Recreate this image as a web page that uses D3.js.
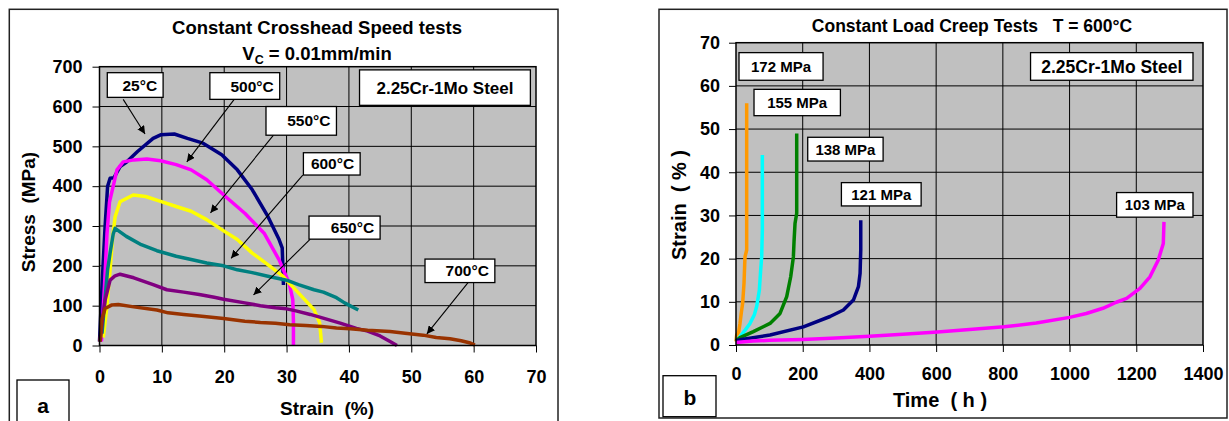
<!DOCTYPE html>
<html>
<head>
<meta charset="utf-8">
<script src="https://cdn.jsdelivr.net/npm/d3@7"></script>
<style>
  html, body { margin: 0; padding: 0; background: #fff; }
  svg { display: block; font-family: "Liberation Sans", Arial, sans-serif; }
  .tick text { font-weight: bold; font-size: 18px; fill: #000; }
  .tick line { stroke: #000; stroke-width: 1; }
</style>
</head>
<body>
<svg id="chart" width="1229" height="421"></svg>
<script>
// ---------- Panel (a): constant crosshead speed tensile curves ----------
const strainTicks = [0, 10, 20, 30, 40, 50, 60, 70];
const stressTicks = [0, 100, 200, 300, 400, 500, 600, 700];

// [strain %, stress MPa]
const t25 = [[0.0,10],[0.2,80],[0.5,180],[0.9,300],[1.3,400],[1.7,420],[2.3,421],[3.3,449],[4.3,460],[6.1,487],[8.6,520],[9.8,529],[12,531],[14.1,520],[16.6,508],[19.6,479],[22.1,441],[24.5,391],[27,324],[28.8,266],[29.3,245],[29.4,200],[29.5,152]];
const t500 = [[0.3,10],[0.8,150],[1.2,280],[1.6,360],[2.2,400],[2.8,441],[3.8,461],[5.5,466],[7.6,468],[9.8,464],[12.3,454],[14.7,441],[17.2,416],[20.2,374],[23.3,332],[26.4,282],[28.8,215],[30.4,157],[31,115],[31.1,60],[31.1,0]];
const t550 = [[0.6,20],[1.2,100],[1.7,190],[2.1,270],[2.5,323],[3.3,361],[5.4,378],[7.4,374],[9.8,362],[12.3,349],[14.7,337],[17.2,316],[19.6,291],[22.1,266],[24.5,232],[27,203],[29.4,174],[31.9,132],[34.4,90],[35.3,57],[35.6,7]];
const t600 = [[0.4,30],[0.9,120],[1.3,190],[1.7,232],[2.2,280],[2.5,294],[4.3,274],[6.7,253],[9.2,238],[12.3,224],[14.7,216],[17.2,207],[19.9,200],[22.1,190],[24.5,183],[27,174],[30,164],[31.9,153],[34.4,140],[35.9,134],[38,120],[39.3,107],[41.5,89]];
const t650 = [[0.1,10],[0.5,70],[0.9,114],[1.7,164],[2.5,175],[3.3,179],[5.5,170],[8.6,153],[10.8,140],[13.5,134],[16,128],[18.4,121],[19.9,116],[23.3,107],[25.8,100],[28.2,95],[30,92],[31.5,87],[33.8,78],[36,68],[38.6,56],[41.2,43],[43,36],[45,24],[46.6,10],[47.7,0]];
const t700 = [[0.1,10],[0.35,64],[0.9,93],[2,102],[3,103],[5.5,97],[9.2,89],[11,82],[13.5,78],[16,74],[19.9,68],[23.3,61],[25.8,58],[28.2,56],[30.5,52],[33.1,50],[35.6,48],[38,44],[40.2,42],[43,38],[46.6,35],[49,31],[51.9,26],[54,20],[56.2,17],[58,12],[59.3,7],[60.2,1]];

const tensileSeries = [
  { name: "25°C",  color: "#000080", values: t25 },
  { name: "500°C", color: "#FF00FF", values: t500 },
  { name: "550°C", color: "#FFFF00", values: t550 },
  { name: "600°C", color: "#008080", values: t600 },
  { name: "650°C", color: "#800080", values: t650 },
  { name: "700°C", color: "#993300", values: t700 }
];

// Callouts: box [x0, x1, y0, y1] in data units, arrow [from, to]
const tensileCallouts = [
  { text: "25°C",  box: [1.25, 10.2, 685, 623], arrow: [[3.8, 618], [7.3, 531]] },
  { text: "500°C", box: [17.7, 28.9, 685, 618], arrow: [[21.6, 618], [14.0, 461]] },
  { text: "550°C", box: [26.7, 38.0, 600, 528], arrow: [[27.9, 528], [17.8, 333]] },
  { text: "600°C", box: [32.7, 41.8, 484, 428], arrow: [[32.6, 428], [21.1, 219]] },
  { text: "650°C", box: [33.6, 45.0, 325, 267], arrow: [[33.8, 267], [24.7, 127]] },
  { text: "700°C", box: [52.2, 63.4, 217, 158], arrow: [[59.1, 158], [52.5, 29]] }
];

// ---------- Panel (b): constant load creep curves at 600°C ----------
const timeTicks = [0, 200, 400, 600, 800, 1000, 1200, 1400];
const creepStrainTicks = [0, 10, 20, 30, 40, 50, 60, 70];

// [time h, strain %]
const c172 = [[0,0.8],[2,2.3],[8,3.0],[12,5.0],[16,7.5],[20,9.7],[24,14.3],[26,18.5],[27,20.4],[32,22],[32,30],[32,56]];
const c155 = [[0,1.0],[12,1.9],[28,3.5],[42,5.0],[55,7.0],[62,8.9],[70,12.7],[74,17.4],[77,20.4],[79,26.6],[79,44]];
const c138 = [[0,1.0],[12,1.7],[52,3.1],[102,5.0],[132,7.3],[152,11.2],[164,15.8],[172,20.4],[174,24],[177,28.2],[182,30.5],[182,49]];
const c121 = [[0,1.0],[12,1.2],[102,2.3],[202,4.2],[282,6.6],[322,8.1],[352,10.4],[367,13.5],[372,16.6],[374,22],[374,28.9]];
const c103 = [[0,0.6],[50,0.9],[100,1.1],[200,1.3],[300,1.6],[400,2.0],[500,2.5],[604,3.0],[700,3.6],[804,4.2],[900,5.1],[1000,6.4],[1050,7.3],[1100,8.5],[1140,9.9],[1171,10.8],[1211,13.1],[1241,15.8],[1266,19.7],[1281,23.5],[1283,28.5]];

const creepSeries = [
  { name: "172 MPa", color: "#FF9900", values: c172 },
  { name: "155 MPa", color: "#00FFFF", values: c155 },
  { name: "138 MPa", color: "#008000", values: c138 },
  { name: "121 MPa", color: "#000080", values: c121 },
  { name: "103 MPa", color: "#FF00FF", values: c103 }
];

const creepCallouts = [
  { text: "172 MPa", box: [9, 261, 67.7, 61.3] },
  { text: "155 MPa", box: [54, 313, 59.2, 53.1] },
  { text: "138 MPa", box: [215, 441, 48.1, 42.6] },
  { text: "121 MPa", box: [316, 555, 37.6, 32.2] },
  { text: "103 MPa", box: [1141, 1370, 35.3, 29.6] }
];

const svg = d3.select("#chart");

const defs = svg.append("defs");
defs.append("marker")
  .attr("id", "arrowhead")
  .attr("viewBox", "0 0 10 10")
  .attr("refX", 10).attr("refY", 5)
  .attr("markerWidth", 8).attr("markerHeight", 8)
  .attr("markerUnits", "userSpaceOnUse")
  .attr("orient", "auto")
  .append("path").attr("d", "M0,0 L10,5 L0,10 Z").attr("fill", "#000");

function drawPanel(cfg) {
  const g = svg.append("g");
  const { x, y } = cfg;
  const [x0, x1] = x.range();
  const [yb, yt] = y.range();

  // panel frame
  g.append("rect")
    .attr("x", cfg.frame[0]).attr("y", cfg.frame[1])
    .attr("width", cfg.frame[2]).attr("height", cfg.frame[3])
    .attr("fill", "#fff").attr("stroke", "#222").attr("stroke-width", 1.5);

  // plot background
  g.append("rect")
    .attr("x", x0).attr("y", yt).attr("width", x1 - x0).attr("height", yb - yt)
    .attr("fill", "#C0C0C0");

  // grid
  g.append("g").selectAll("line").data(cfg.xTicks.slice(1, -1)).join("line")
    .attr("x1", d => x(d)).attr("x2", d => x(d)).attr("y1", yt).attr("y2", yb)
    .attr("stroke", "#000").attr("stroke-width", 1);
  g.append("g").selectAll("line").data(cfg.yTicks.slice(1, -1)).join("line")
    .attr("x1", x0).attr("x2", x1).attr("y1", d => y(d)).attr("y2", d => y(d))
    .attr("stroke", "#000").attr("stroke-width", 1);

  // axes
  const ax = g.append("g").attr("transform", `translate(0,${yb})`)
    .call(d3.axisBottom(x).tickValues(cfg.xTicks).tickSize(7).tickPadding(cfg.xPad).tickFormat(d3.format("d")));
  const ay = g.append("g").attr("transform", `translate(${x0},0)`)
    .call(d3.axisLeft(y).tickValues(cfg.yTicks).tickSize(7).tickPadding(cfg.yPad).tickFormat(d3.format("d")));
  ax.select(".domain").remove();
  ay.select(".domain").remove();
  ax.selectAll("text").attr("font-family", null).attr("font-size", null);
  ay.selectAll("text").attr("font-family", null).attr("font-size", null);

  // series
  const line = d3.line().x(d => x(d[0])).y(d => y(d[1]));
  g.append("g").selectAll("path").data(cfg.series).join("path")
    .attr("d", d => line(d.values))
    .attr("fill", "none")
    .attr("stroke", d => d.color)
    .attr("stroke-width", 3.5)
    .attr("stroke-linejoin", "round")
    .attr("stroke-linecap", "butt");

  // plot border
  g.append("rect")
    .attr("x", x0).attr("y", yt).attr("width", x1 - x0).attr("height", yb - yt)
    .attr("fill", "none").attr("stroke", "#000").attr("stroke-width", 1.5);

  return g;
}

function labelBox(g, x, y, c, size, align) {
  const bx0 = x(c.box[0]), bx1 = x(c.box[1]);
  const by0 = y(c.box[2]), by1 = y(c.box[3]);
  g.append("rect")
    .attr("x", bx0).attr("y", by0).attr("width", bx1 - bx0).attr("height", by1 - by0)
    .attr("fill", "#fff").attr("stroke", "#000").attr("stroke-width", 1.3);
  g.append("text")
    .attr("x", align === "end" ? bx1 - 6 : (bx0 + bx1) / 2)
    .attr("y", (by0 + by1) / 2)
    .attr("dy", "0.36em")
    .attr("text-anchor", align === "end" ? "end" : "middle")
    .attr("font-weight", "bold").attr("font-size", size)
    .text(c.text);
}

// ----- panel (a)
const xL = d3.scaleLinear().domain([0, 70]).range([99.5, 536]);
const yL = d3.scaleLinear().domain([0, 700]).range([345.5, 66.7]);
const gA = drawPanel({
  x: xL, y: yL, xTicks: strainTicks, yTicks: stressTicks,
  xPad: 17.5, yPad: 10, series: tensileSeries,
  frame: [9.3, 9.3, 548.7, 440]
});

tensileCallouts.forEach(c => {
  gA.append("line")
    .attr("x1", xL(c.arrow[0][0])).attr("y1", yL(c.arrow[0][1]))
    .attr("x2", xL(c.arrow[1][0])).attr("y2", yL(c.arrow[1][1]))
    .attr("stroke", "#000").attr("stroke-width", 1.1)
    .attr("marker-end", "url(#arrowhead)");
  labelBox(gA, xL, yL, c, 15.5, "end");
});
labelBox(gA, xL, yL, { text: "2.25Cr-1Mo Steel", box: [41.7, 69.1, 692, 603] }, 17, "middle");

gA.append("text").attr("x", 317).attr("y", 34).attr("text-anchor", "middle")
  .attr("font-weight", "bold").attr("font-size", 18.5).text("Constant Crosshead Speed tests");
const vc = gA.append("text").attr("x", 317).attr("y", 60).attr("text-anchor", "middle")
  .attr("font-weight", "bold").attr("font-size", 18.5);
vc.append("tspan").text("V");
vc.append("tspan").attr("dy", 4).attr("font-size", 12.5).text("C");
vc.append("tspan").attr("dy", -4).text(" = 0.01mm/min");

gA.append("text")
  .attr("transform", "translate(35,212) rotate(-90)")
  .attr("text-anchor", "middle").attr("font-weight", "bold").attr("font-size", 19)
  .attr("xml:space", "preserve").text("Stress  (MPa)");
gA.append("text").attr("x", 327).attr("y", 415).attr("text-anchor", "middle")
  .attr("font-weight", "bold").attr("font-size", 19)
  .attr("xml:space", "preserve").text("Strain  (%)");

gA.append("rect").attr("x", 17).attr("y", 380).attr("width", 52).attr("height", 60)
  .attr("fill", "#fff").attr("stroke", "#000").attr("stroke-width", 1.3);
gA.append("text").attr("x", 43).attr("y", 413).attr("text-anchor", "middle")
  .attr("font-weight", "bold").attr("font-size", 21).text("a");

// ----- panel (b)
const xR = d3.scaleLinear().domain([0, 1400]).range([736, 1203]);
const yR = d3.scaleLinear().domain([0, 70]).range([345, 42.7]);
const gB = drawPanel({
  x: xR, y: yR, xTicks: timeTicks, yTicks: creepStrainTicks,
  xPad: 15, yPad: 9, series: creepSeries,
  frame: [659, 9.3, 568, 408.7]
});

creepCallouts.forEach(c => labelBox(gB, xR, yR, c, 15, "middle"));
labelBox(gB, xR, yR, { text: "2.25Cr-1Mo Steel", box: [883, 1370, 67.7, 61.3] }, 17.5, "middle");

gB.append("text").attr("x", 972).attr("y", 31.5).attr("text-anchor", "middle")
  .attr("font-weight", "bold").attr("font-size", 17.5)
  .attr("xml:space", "preserve").text("Constant Load Creep Tests   T = 600°C");
gB.append("text")
  .attr("transform", "translate(686,205) rotate(-90)")
  .attr("text-anchor", "middle").attr("font-weight", "bold").attr("font-size", 20)
  .attr("xml:space", "preserve").text("Strain  ( % )");
gB.append("text").attr("x", 940).attr("y", 407).attr("text-anchor", "middle")
  .attr("font-weight", "bold").attr("font-size", 20)
  .attr("xml:space", "preserve").text("Time  ( h )");

gB.append("rect").attr("x", 663).attr("y", 375.7).attr("width", 53).attr("height", 41)
  .attr("fill", "#fff").attr("stroke", "#000").attr("stroke-width", 1.3);
gB.append("text").attr("x", 690).attr("y", 405).attr("text-anchor", "middle")
  .attr("font-weight", "bold").attr("font-size", 21).text("b");
</script>
</body>
</html>
